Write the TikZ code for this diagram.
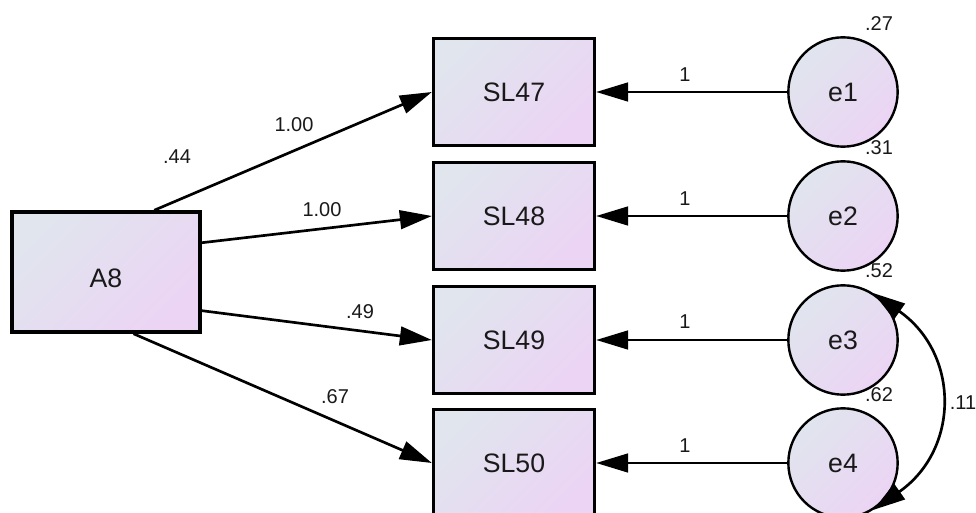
\documentclass[tikz,border=0pt]{standalone}
\usepackage{fontspec}
\setmainfont{Liberation Sans}
\usetikzlibrary{arrows.meta}

\definecolor{fillTop}{RGB}{224,229,238}
\definecolor{fillBot}{RGB}{236,212,244}
\definecolor{ink}{RGB}{25,25,25}

\tikzset{every picture/.style={line width=0.75pt}}
\tikzset{
  obsbox/.style={draw=black, line width=2.2pt, top color=fillTop, bottom color=fillBot, shading angle=45,
    minimum width=121pt, minimum height=80pt, inner sep=0pt, text=ink, font=\fontsize{20}{23}\selectfont},
  errcirc/.style={circle, draw=black, line width=1.8pt, top color=fillTop, bottom color=fillBot, shading angle=45,
    minimum size=82pt, inner sep=0pt, text=ink, font=\fontsize{20}{23}\selectfont},
  estlbl/.style={inner sep=0pt, text=ink, font=\fontsize{15}{17}\selectfont},
  regpath/.style={draw=black, line width=2pt, -{Triangle[length=24pt,width=14pt]}},
  covpath/.style={draw=black, line width=2pt, {Triangle[length=24pt,width=14pt]}-{Triangle[length=24pt,width=14pt]}}
}

\begin{document}
\begin{tikzpicture}[x=0.75pt,y=0.75pt,yscale=-1,xscale=1]
\useasboundingbox (0,0) rectangle (976,513);
\clip (0,0) rectangle (976,513);

%Shape: Rectangle [id:a8]
\node[obsbox, line width=2.6pt, minimum width=141pt, minimum height=90pt, text height=24pt, text depth=0pt] (a8) at (106,272) {A8};

%Shape: Rectangle [id:sl47..sl50]
\node[obsbox] (sl47) at (514,92) {SL47};
\node[obsbox] (sl48) at (514,216) {SL48};
\node[obsbox] (sl49) at (514,340) {SL49};
\node[obsbox] (sl50) at (514,463) {SL50};

%Shape: Circle [id:e1..e4]
\node[errcirc] (e1) at (843,92) {e1};
\node[errcirc] (e2) at (843,216) {e2};
\node[errcirc] (e3) at (843,340) {e3};
\node[errcirc] (e4) at (843,463) {e4};

%Straight Lines [id:a8 to items]
\draw[regpath] (a8.52) -- (sl47.west);
\draw[regpath] (a8.17) -- (sl48.west);
\draw[regpath] (a8.-22) -- (sl49.west);
\draw[regpath] (a8.-66) -- (sl50.west);

%Straight Lines [id:errors to items]
\draw[regpath] (e1) -- (sl47);
\draw[regpath] (e2) -- (sl48);
\draw[regpath] (e3) -- (sl49);
\draw[regpath] (e4) -- (sl50);

%Curve Lines [id:cov e3 e4]
\draw[covpath] (e3.57) to[out=35,in=-35,looseness=1.25] (e4.-57);

% Text Node
\node[estlbl] (va8) at (177,157) {.44};
% Text Node
\node[estlbl] (w47) at (294,125) {1.00};
% Text Node
\node[estlbl] (w48) at (322,210) {1.00};
% Text Node
\node[estlbl] (w49) at (360,312) {.49};
% Text Node
\node[estlbl] (w50) at (335,397) {.67};
% Text Node
\node[estlbl] (f1) at (685,75) {1};
\node[estlbl] (f2) at (685,199) {1};
\node[estlbl] (f3) at (685,322) {1};
\node[estlbl] (f4) at (685,446) {1};
% Text Node
\node[estlbl] (r47) at (879,24) {.27};
\node[estlbl] (r48) at (879,148) {.31};
\node[estlbl] (r49) at (879,271) {.52};
\node[estlbl] (r50) at (879,395) {.62};
% Text Node
\node[estlbl] (c34) at (963,403) {.11};

\end{tikzpicture}
\end{document}
